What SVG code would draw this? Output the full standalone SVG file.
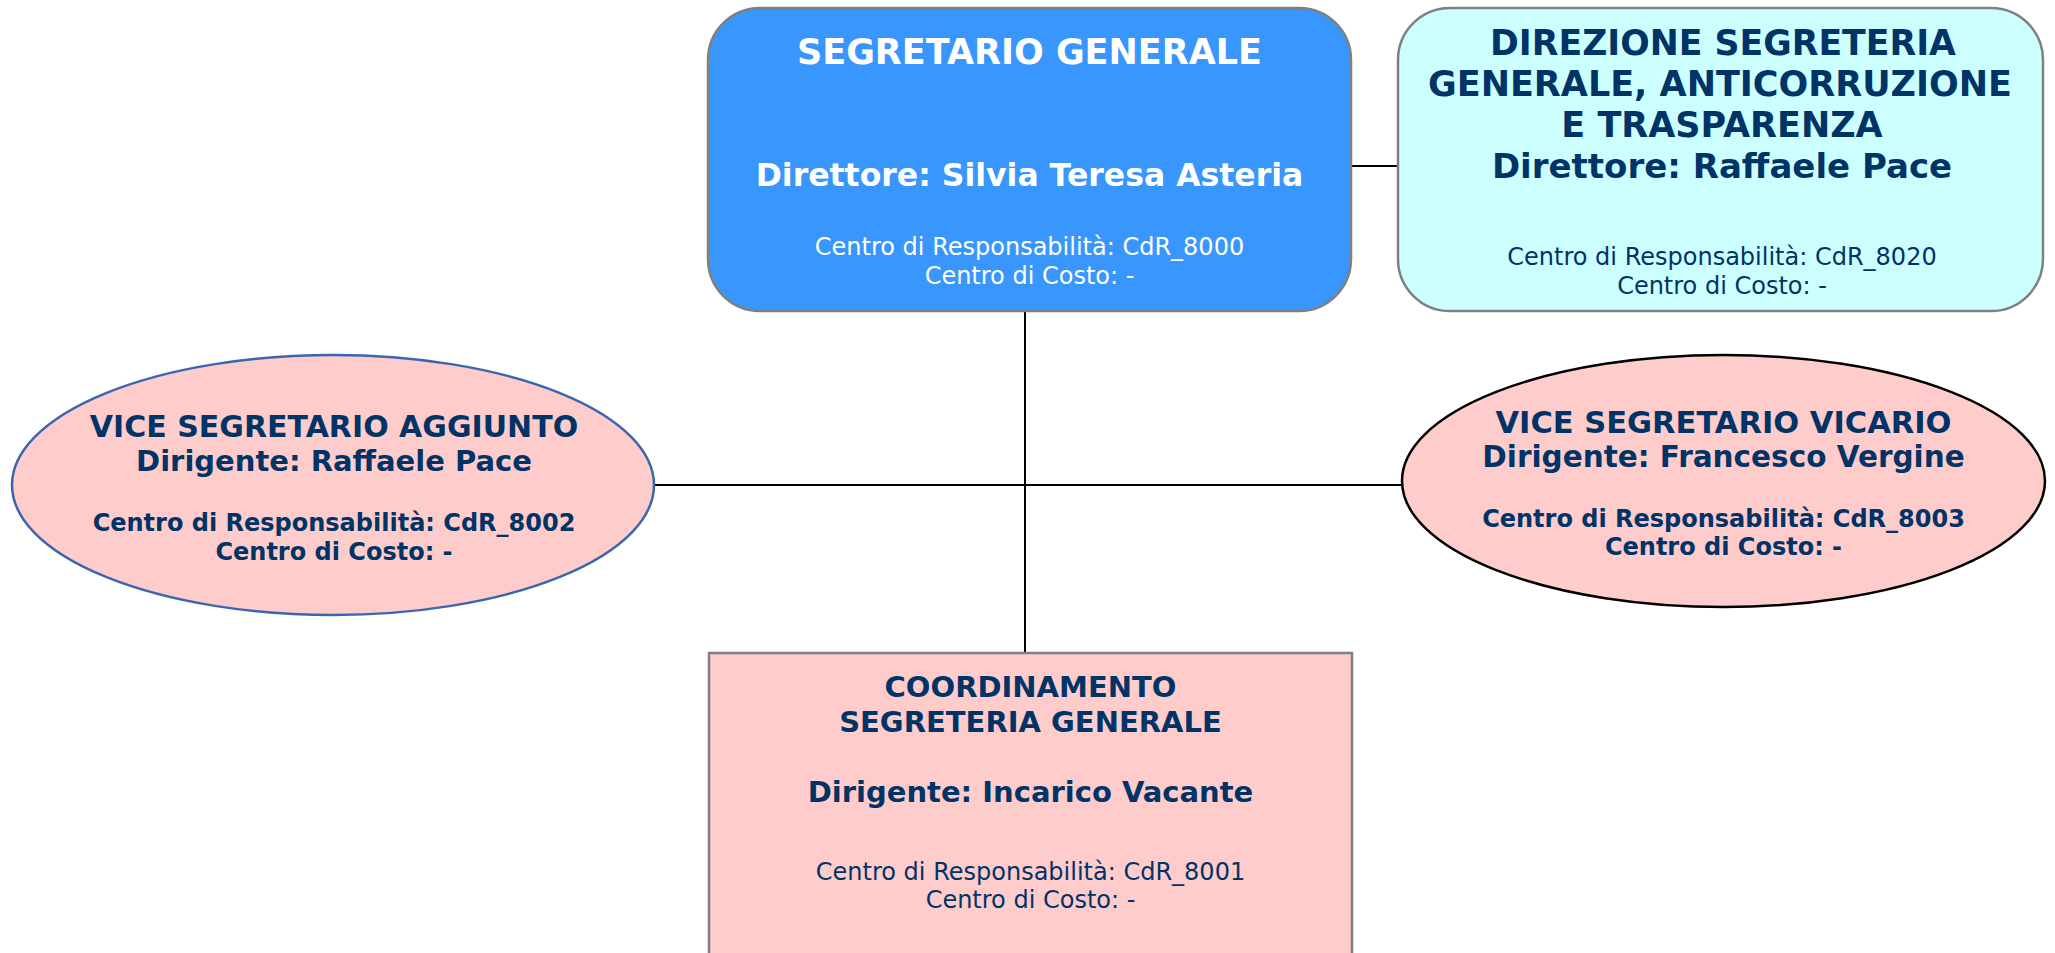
<svg xmlns="http://www.w3.org/2000/svg" width="2055" height="953" viewBox="0 0 2055 953">
<style>
.t{font-family:"DejaVu Sans","Verdana",sans-serif;text-anchor:middle}
.b{font-weight:bold}
.w{fill:#ffffff}
.n{fill:#003366}
.box{stroke:#808080;stroke-width:2.5}
.conn{stroke:#000000;stroke-width:2;fill:none}
</style>
<rect width="2055" height="953" fill="#ffffff"/>
<g id="connectors">
<line class="conn" x1="1025" y1="311" x2="1025" y2="653"/>
<line class="conn" x1="654" y1="485" x2="1402" y2="485"/>
<line class="conn" x1="1351" y1="166" x2="1398" y2="166"/>
</g>
<g id="segretario-generale">
<rect class="box" x="708" y="8" width="643" height="303" rx="52" ry="52" fill="#3896FC"/>
<text class="t b w" x="1029.5" y="64" font-size="35">SEGRETARIO GENERALE</text>
<text class="t b w" x="1029.5" y="186" font-size="31.5">Direttore: Silvia Teresa Asteria</text>
<text class="t w" x="1029.5" y="255" font-size="24">Centro di Responsabilità: CdR_8000</text>
<text class="t w" x="1029.5" y="284" font-size="24">Centro di Costo: -</text>
</g>
<g id="direzione-segreteria">
<rect class="box" x="1398" y="8" width="645" height="303" rx="52" ry="52" fill="#CCFFFF"/>
<text class="t b n" x="1723" y="55" font-size="34.7">DIREZIONE SEGRETERIA</text>
<text class="t b n" x="1720" y="96" font-size="35">GENERALE, ANTICORRUZIONE</text>
<text class="t b n" x="1722" y="137" font-size="35">E TRASPARENZA</text>
<text class="t b n" x="1722" y="178" font-size="34">Direttore: Raffaele Pace</text>
<text class="t n" x="1722" y="265" font-size="24">Centro di Responsabilità: CdR_8020</text>
<text class="t n" x="1722" y="294" font-size="24">Centro di Costo: -</text>
</g>
<g id="vice-aggiunto">
<ellipse cx="333" cy="485" rx="321" ry="130" fill="#FFCCCC" stroke="#3A66B0" stroke-width="2.5"/>
<text class="t b n" x="334" y="437" font-size="30">VICE SEGRETARIO AGGIUNTO</text>
<text class="t b n" x="334" y="471" font-size="29">Dirigente: Raffaele Pace</text>
<text class="t b n" x="334" y="531" font-size="24">Centro di Responsabilità: CdR_8002</text>
<text class="t b n" x="334" y="560" font-size="24">Centro di Costo: -</text>
</g>
<g id="vice-vicario">
<ellipse cx="1723.5" cy="481" rx="321.5" ry="126" fill="#FFCCCC" stroke="#000000" stroke-width="2.5"/>
<text class="t b n" x="1723.5" y="433" font-size="30.5">VICE SEGRETARIO VICARIO</text>
<text class="t b n" x="1723.5" y="467" font-size="29.5">Dirigente: Francesco Vergine</text>
<text class="t b n" x="1723.5" y="527" font-size="24">Centro di Responsabilità: CdR_8003</text>
<text class="t b n" x="1723.5" y="555" font-size="24">Centro di Costo: -</text>
</g>
<g id="coordinamento">
<rect class="box" x="709" y="653" width="643" height="320" fill="#FFCCCC"/>
<text class="t b n" x="1030.5" y="697" font-size="29">COORDINAMENTO</text>
<text class="t b n" x="1030.5" y="732" font-size="29">SEGRETERIA GENERALE</text>
<text class="t b n" x="1030.5" y="802" font-size="29">Dirigente: Incarico Vacante</text>
<text class="t n" x="1030.5" y="880" font-size="24">Centro di Responsabilità: CdR_8001</text>
<text class="t n" x="1030.5" y="908" font-size="24">Centro di Costo: -</text>
</g>
</svg>
